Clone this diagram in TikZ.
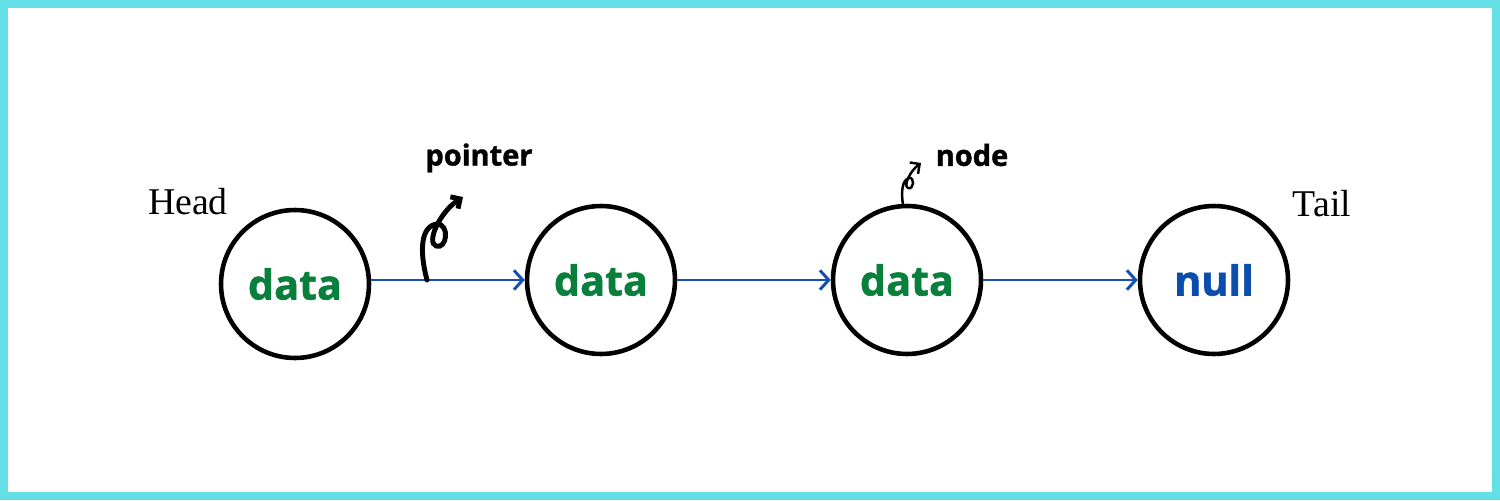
\documentclass[tikz,border=0pt]{standalone}
\usepackage{fontspec}
\setmainfont{Liberation Serif}
\newfontfamily\osans{Open Sans}[BoldFeatures={FakeBold=1.3}]
\usetikzlibrary{arrows.meta}
\definecolor{frame}{HTML}{62E0E6}
\definecolor{datagreen}{HTML}{08803C}
\definecolor{nullblue}{HTML}{0B4DAD}
\definecolor{linkblue}{HTML}{1650B5}
\tikzset{
  llnode/.style={circle,draw=black,line width=2.6pt,minimum size=2.96cm,inner sep=0pt,
    font=\osans\bfseries\fontsize{23.5}{23.5}\selectfont},
  link/.style={draw=linkblue,line width=1.7pt,-{Straight Barb[length=5pt,width=11pt,line width=1.7pt]}},
  lbl/.style={font=\osans\bfseries\fontsize{16.5}{16.5}\selectfont,inner sep=0pt},
  endlbl/.style={font=\fontsize{21.5}{21.5}\selectfont,inner sep=0pt},
  curl/.style={draw=black,line cap=round,-{Straight Barb[length=4pt,width=8pt]}}
}
\begin{document}
\begin{tikzpicture}[x=0.02cm,y=-0.02cm]
\useasboundingbox (0,0) rectangle (1500,500);
\draw[frame,line width=4.5pt] (4,4) rectangle (1496,496);
\node[llnode,text=datagreen] (n1) at (295,284) {data};
\node[llnode,text=datagreen] (n2) at (601,280) {data};
\node[llnode,text=datagreen] (n3) at (907,280) {data};
\node[llnode,text=nullblue] (n4) at (1214,280) {null};
\draw[link] (n1.east |- n2.west) -- (n2.west);
\draw[link] (n2.east) -- (n3.west);
\draw[link] (n3.east) -- (n4.west);
\node[endlbl] (head) at (188,202) {Head};
\node[endlbl] (tail) at (1322,204) {Tail};
\node[lbl] (ptr) at (479,158) {pointer};
\node[lbl] (nd) at (972,155) {node};
\coordinate (p0) at (427,280);
\coordinate (p1) at (463,197);
\draw[curl,line width=2.8pt] (p0) .. controls (419,250) and (421,226) .. (437,224)
  .. controls (450,224) and (447,250) .. (436,246)
  .. controls (426,242) and (440,212) .. (p1);
\coordinate (q0) at (903,205);
\coordinate (q1) at (921,163);
\draw[curl,line width=1.4pt] (q0) .. controls (901,192) and (902,180) .. (909,178)
  .. controls (915,177) and (914,190) .. (908,188)
  .. controls (903,186) and (910,171) .. (q1);
\end{tikzpicture}
\end{document}
